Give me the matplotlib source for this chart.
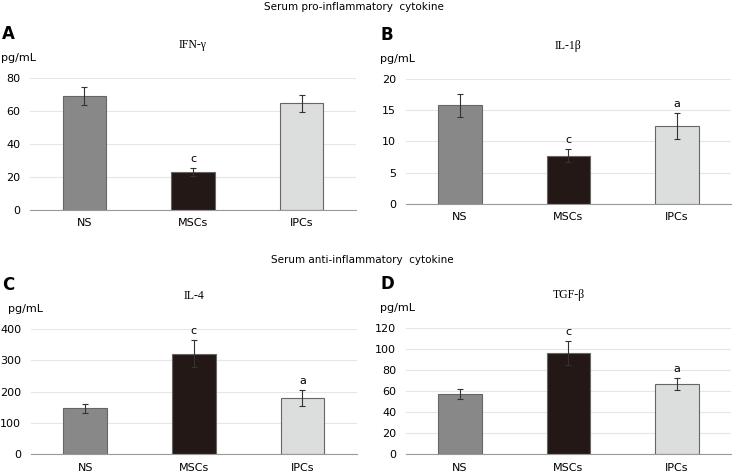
import matplotlib.pyplot as plt
import numpy as np

plt.rcParams['font.family'] = ['DejaVu Sans']

# data
groups = ['NS', 'MSCs', 'IPCs']
bar_colors = ['#888888', '#231815', '#dcdddd']

ifn_mean = [69, 22.8, 64.6]
ifn_err = [5.5, 2.4, 5.2]
ifn_sig = ['', 'c', '']

il1b_mean = [15.7, 7.7, 12.4]
il1b_err = [1.8, 1.0, 2.05]
il1b_sig = ['', 'c', 'a']

il4_mean = [147, 322, 180]
il4_err = [15, 44, 25]
il4_sig = ['', 'c', 'a']

tgfb_mean = [57, 96.5, 67]
tgfb_err = [4.8, 11, 5.5]
tgfb_sig = ['', 'c', 'a']

fig = plt.figure(figsize=(7.34, 4.73), dpi=100)

panels = [
    # letter, title, mean, err, sig, ymax, ystep, rect, letter x, unit x (px)
    ('A', 'IFN-γ', ifn_mean, ifn_err, ifn_sig, 80, 20, [0.041, 0.556, 0.444, 0.279], 2, 0.5),
    ('B', 'IL-1β', il1b_mean, il1b_err, il1b_sig, 20, 5, [0.553, 0.569, 0.443, 0.265], 380, 380),
    ('C', 'IL-4', il4_mean, il4_err, il4_sig, 400, 100, [0.042, 0.0395, 0.444, 0.2645], 2, 8),
    ('D', 'TGF-β', tgfb_mean, tgfb_err, tgfb_sig, 120, 20, [0.553, 0.0395, 0.443, 0.2665], 380, 380),
]

for letter, name, mean, err, sig, ymax, ystep, rect, lx, ux in panels:
    ax = fig.add_axes(rect)
    h = rect[3] * 473
    top = rect[1] + rect[3]
    x = np.arange(len(groups))
    ax.bar(x, mean, width=0.4, color=bar_colors, edgecolor='#666666', linewidth=0.8, zorder=2)
    ax.errorbar(x, mean, yerr=err, fmt='none', ecolor='#333333', elinewidth=0.8,
                capsize=2.5, capthick=0.8, zorder=3)
    for xi, m, e, s in zip(x, mean, err, sig):
        if s:
            ax.annotate(s, (xi, m + e), xytext=(0, 3), textcoords='offset points',
                        ha='center', va='bottom', fontsize=8)
    ax.set_xlim(-0.5, 2.5)
    ax.set_ylim(0, ymax)
    ax.set_yticks(np.arange(0, ymax + ystep / 2, ystep))
    ax.set_xticks(x)
    ax.set_xticklabels(groups)
    ax.yaxis.grid(True, color='#e6e6e6', linewidth=0.8, zorder=0)
    ax.set_axisbelow(True)
    for sp in ['top', 'right', 'left']:
        ax.spines[sp].set_visible(False)
    ax.spines['bottom'].set_color('#999999')
    ax.tick_params(axis='y', length=0, labelsize=8, pad=7)
    ax.tick_params(axis='x', length=0, labelsize=8, pad=6)
    ax.text(0.5, 1 + 33 / h, name, transform=ax.transAxes, fontsize=8.5,
            family='Liberation Serif', ha='center', va='center')
    fig.text(lx / 734, top + 44 / 473, letter, fontsize=12,
             fontweight='bold', ha='left', va='center')
    fig.text(ux / 734, top + 20 / 473, 'pg/mL', fontsize=8,
             ha='left', va='center')

fig.text(0.482, 1 - 7 / 473, 'Serum pro-inflammatory  cytokine', ha='center', va='center', fontsize=7.5)
fig.text(0.493, 1 - 260 / 473, 'Serum anti-inflammatory  cytokine', ha='center', va='center', fontsize=7.5)

plt.savefig('out.png', dpi=100)
